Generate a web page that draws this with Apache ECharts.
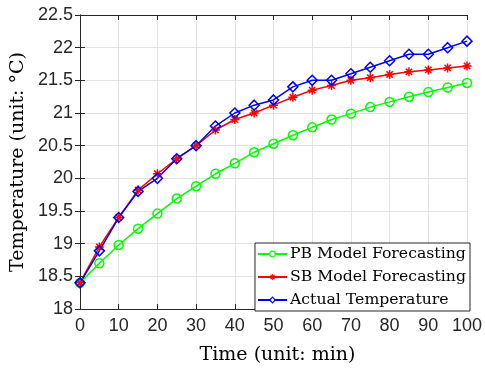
<!DOCTYPE html>
<html>
<head>
<meta charset="utf-8">
<script src="https://cdn.jsdelivr.net/npm/echarts@6/dist/echarts.min.js"></script>
<style>
  html, body { margin: 0; padding: 0; background: #fff; }
  #chart { width: 485px; height: 370px; }
</style>
</head>
<body>
<div id="chart"></div>
<script>
const times = [0, 5, 10, 15, 20, 25, 30, 35, 40, 45, 50, 55, 60, 65, 70, 75, 80, 85, 90, 95, 100];
const pbModel = [18.4, 18.7, 18.98, 19.23, 19.46, 19.69, 19.88, 20.07, 20.23, 20.4, 20.53,
  20.66, 20.78, 20.9, 20.99, 21.09, 21.17, 21.25, 21.32, 21.39, 21.46];
const sbModel = [18.4, 18.95, 19.4, 19.82, 20.07, 20.3, 20.5, 20.74, 20.9, 21.0, 21.12,
  21.24, 21.35, 21.42, 21.5, 21.54, 21.59, 21.63, 21.66, 21.69, 21.72];
const actual = [18.4, 18.89, 19.4, 19.8, 20.0, 20.3, 20.5, 20.8, 21.0, 21.12, 21.2,
  21.4, 21.5, 21.5, 21.6, 21.7, 21.8, 21.9, 21.9, 22.0, 22.1];
const legendNames = ["PB Model Forecasting", "SB Model Forecasting", "Actual Temperature"];

const axisColor = "#262626";
const gridColor = "#e3e3e3";
const serif = "'DejaVu Serif', serif";
const sans = "'Liberation Sans', Arial, sans-serif";
const asterisk = "path://M0,-1L0,1M-1,0L1,0M-0.7,-0.7L0.7,0.7M-0.7,0.7L0.7,-0.7";

const pairs = (ys) => times.map((t, i) => [t, ys[i]]);

const baseX = {
  type: "value",
  min: 0,
  max: 100,
  interval: 10,
  axisLine: { lineStyle: { color: axisColor, width: 1 } },
  axisTick: { inside: true, length: 5, lineStyle: { color: axisColor } },
};
const baseY = {
  type: "value",
  min: 18,
  max: 22.5,
  interval: 0.5,
  axisLine: { show: true, lineStyle: { color: axisColor, width: 1 } },
  axisTick: { show: true, inside: true, length: 5, lineStyle: { color: axisColor } },
};

const series = (name, ys, color, symbol, size) => ({
  name,
  type: "line",
  data: pairs(ys),
  symbol,
  symbolSize: size,
  showAllSymbol: true,
  lineStyle: { color, width: 1.5 },
  itemStyle: { color: "rgba(0,0,0,0)", borderColor: color, borderWidth: 1.5 },
  animation: false,
});

const chart = echarts.init(document.getElementById("chart"));
chart.setOption({
  animation: false,
  grid: { left: 80, right: 15, top: 15, bottom: 59 },
  xAxis: [
    {
      ...baseX,
      name: "Time (unit: min)",
      nameLocation: "middle",
      nameGap: 37,
      nameTextStyle: { fontFamily: serif, fontSize: 19, color: "#000", padding: [0, 0, 0, 8] },
      axisLabel: { fontFamily: sans, fontSize: 18, color: axisColor, margin: 8 },
      splitLine: { show: true, lineStyle: { color: gridColor } },
    },
    {
      ...baseX,
      position: "top",
      axisLabel: { show: false },
      splitLine: { show: false },
    },
  ],
  yAxis: [
    {
      ...baseY,
      name: "Temperature (unit: °C)",
      nameLocation: "middle",
      nameGap: 49,
      nameTextStyle: { fontFamily: serif, fontSize: 19, color: "#000" },
      axisLabel: { fontFamily: sans, fontSize: 18, color: axisColor, margin: 7 },
      splitLine: { show: true, lineStyle: { color: gridColor } },
    },
    {
      ...baseY,
      position: "right",
      axisLabel: { show: false },
      splitLine: { show: false },
    },
  ],
  legend: {
    orient: "vertical",
    right: 15,
    bottom: 59,
    itemWidth: 29,
    itemHeight: 7,
    itemGap: 7,
    padding: [3, 4, 3, 2],
    backgroundColor: "#fff",
    borderColor: axisColor,
    borderWidth: 1,
    borderRadius: 0,
    itemStyle: { color: "#fff", borderColor: "inherit", borderWidth: 1.2 },
    textStyle: { fontFamily: serif, fontSize: 15.7, lineHeight: 16, color: "#000", padding: [0, 0, 0, -2] },
    data: legendNames,
  },
  series: [
    series(legendNames[0], pbModel, "#00ff00", "circle", 9),
    series(legendNames[1], sbModel, "#ff0000", asterisk, 9),
    series(legendNames[2], actual, "#0000ff", "diamond", 10),
  ],
});
</script>
</body>
</html>
